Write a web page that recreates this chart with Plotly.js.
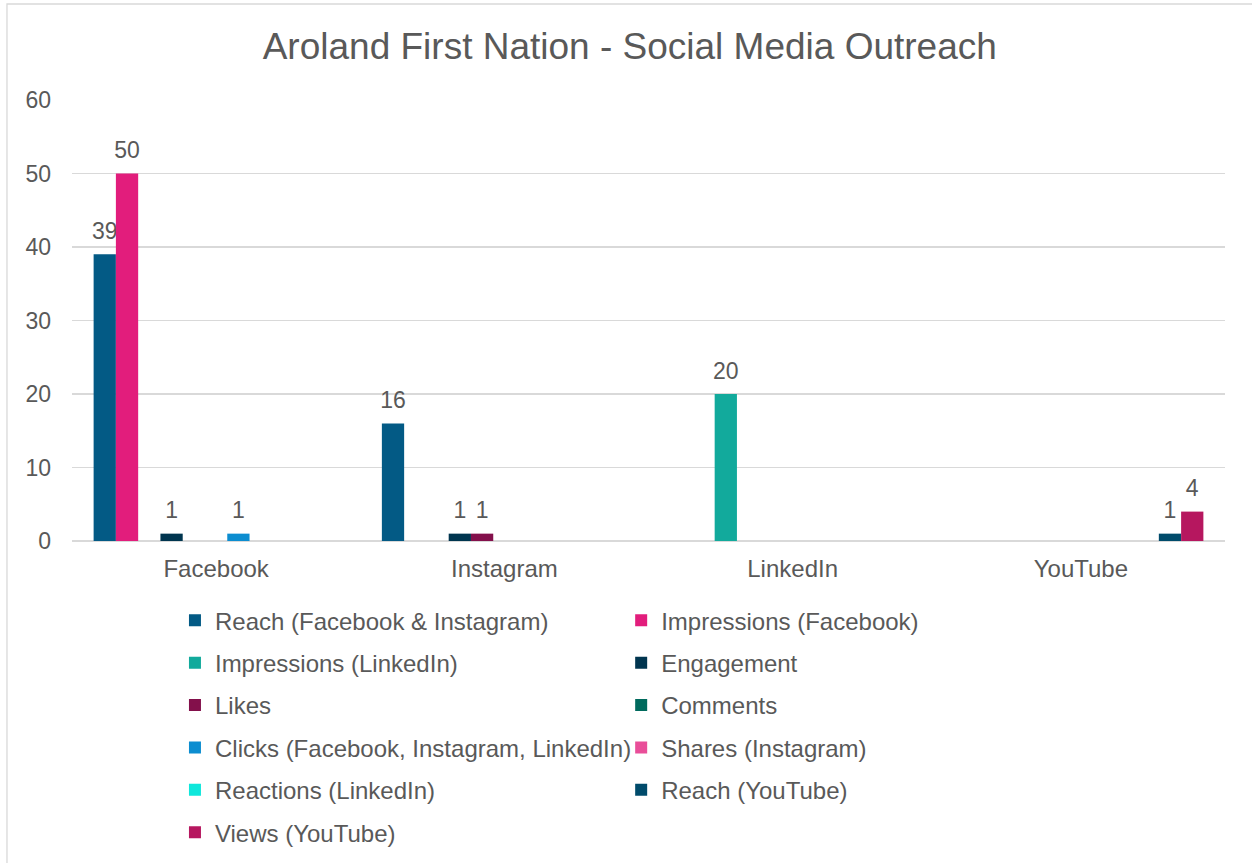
<!DOCTYPE html>
<html>
<head>
<meta charset="utf-8">
<script src="https://cdn.plot.ly/plotly-3.0.1.min.js"></script>
<style>html,body{margin:0;padding:0;background:#fff;}#chart{width:1252px;height:863px;}</style>
</head>
<body>
<div id="chart"></div>
<script>
const categories = ["Facebook", "Instagram", "LinkedIn", "YouTube"];

const seriesNames = [
  "Reach (Facebook & Instagram)",
  "Impressions (Facebook)",
  "Impressions (LinkedIn)",
  "Engagement",
  "Likes",
  "Comments",
  "Clicks (Facebook, Instagram, LinkedIn)",
  "Shares (Instagram)",
  "Reactions (LinkedIn)",
  "Reach (YouTube)",
  "Views (YouTube)"
];

const reachFbIg      = [39, 16, null, null];
const impressionsFb  = [50, null, null, null];
const impressionsLi  = [null, null, 20, null];
const engagement     = [1, 1, null, null];
const likes          = [null, 1, null, null];
const comments       = [null, null, null, null];
const clicks         = [1, null, null, null];
const sharesIg       = [null, null, null, null];
const reactionsLi    = [null, null, null, null];
const reachYt        = [null, null, null, 1];
const viewsYt        = [null, null, null, 4];

const seriesValues = [reachFbIg, impressionsFb, impressionsLi, engagement, likes,
  comments, clicks, sharesIg, reactionsLi, reachYt, viewsYt];

const seriesColors = ["#035A85", "#E21D7C", "#12AA9C", "#00354F", "#83104B",
  "#006A5D", "#0C8DD0", "#E94E99", "#0FE7DB", "#004B6B", "#B6175F"];

const yTicks = [0, 10, 20, 30, 40, 50, 60];

const textColor = "#595959";
const fontFam = "'Liberation Sans', Arial, sans-serif";

const traces = seriesNames.map((name, i) => ({
  type: "bar",
  name: name,
  x: categories,
  y: seriesValues[i],
  marker: {color: seriesColors[i]},
  text: seriesValues[i].map(v => v === null ? "" :
    '<span style="font-size:23px">' + v + '</span><br>\u00a0'),
  textposition: "outside",
  cliponaxis: false,
  constraintext: "none",
  textfont: {family: fontFam, size: 8, color: textColor},
  legend: (i % 2 === 0) ? "legend" : "legend2",
  legendgroup: "g" + i,
  hoverinfo: "x+y+name"
}));

const legendCommon = {
  orientation: "v",
  font: {family: fontFam, size: 24, color: textColor},
  bgcolor: "rgba(0,0,0,0)",
  xanchor: "left",
  yanchor: "top",
  tracegroupgap: 8.2,
  itemwidth: 30
};

const layout = {
  width: 1252,
  height: 863,
  paper_bgcolor: "#ffffff",
  plot_bgcolor: "#ffffff",
  margin: {l: 72, r: 27, t: 100, b: 322, autoexpand: false},
  font: {family: fontFam, color: textColor},
  title: {
    text: "Aroland First Nation - Social Media Outreach",
    font: {family: fontFam, size: 37, color: textColor},
    x: 0.503, xanchor: "center",
    y: 0.947, yanchor: "middle"
  },
  barmode: "group",
  bargap: 0.15,
  bargroupgap: 0,
  xaxis: {
    type: "category",
    tickfont: {family: fontFam, size: 24, color: textColor},
    showgrid: false,
    showline: false,
    ticks: "",
    ticklabelstandoff: 11
  },
  yaxis: {
    range: [0, 60],
    tickvals: yTicks,
    ticktext: yTicks.map(String),
    tickfont: {family: fontFam, size: 23, color: textColor},
    showgrid: true,
    gridcolor: "#d9d9d9",
    gridwidth: 1.5,
    zeroline: true,
    zerolinecolor: "#d9d9d9",
    zerolinewidth: 1.5,
    showline: false,
    ticks: "",
    ticklabelstandoff: 20
  },
  legend: Object.assign({}, legendCommon, {x: 0.0893, y: -0.1296}),
  legend2: Object.assign({}, legendCommon, {x: 0.4763, y: -0.1296}),
  shapes: [{
    type: "rect", xref: "paper", yref: "paper",
    x0: -0.0564, x1: 1.05, y0: -0.8, y1: 1.2177,
    line: {color: "#d9d9d9", width: 1.3},
    fillcolor: "rgba(0,0,0,0)",
    layer: "below"
  }],
  showlegend: true
};

Plotly.newPlot("chart", traces, layout, {displayModeBar: false, staticPlot: true});
</script>
</body>
</html>
